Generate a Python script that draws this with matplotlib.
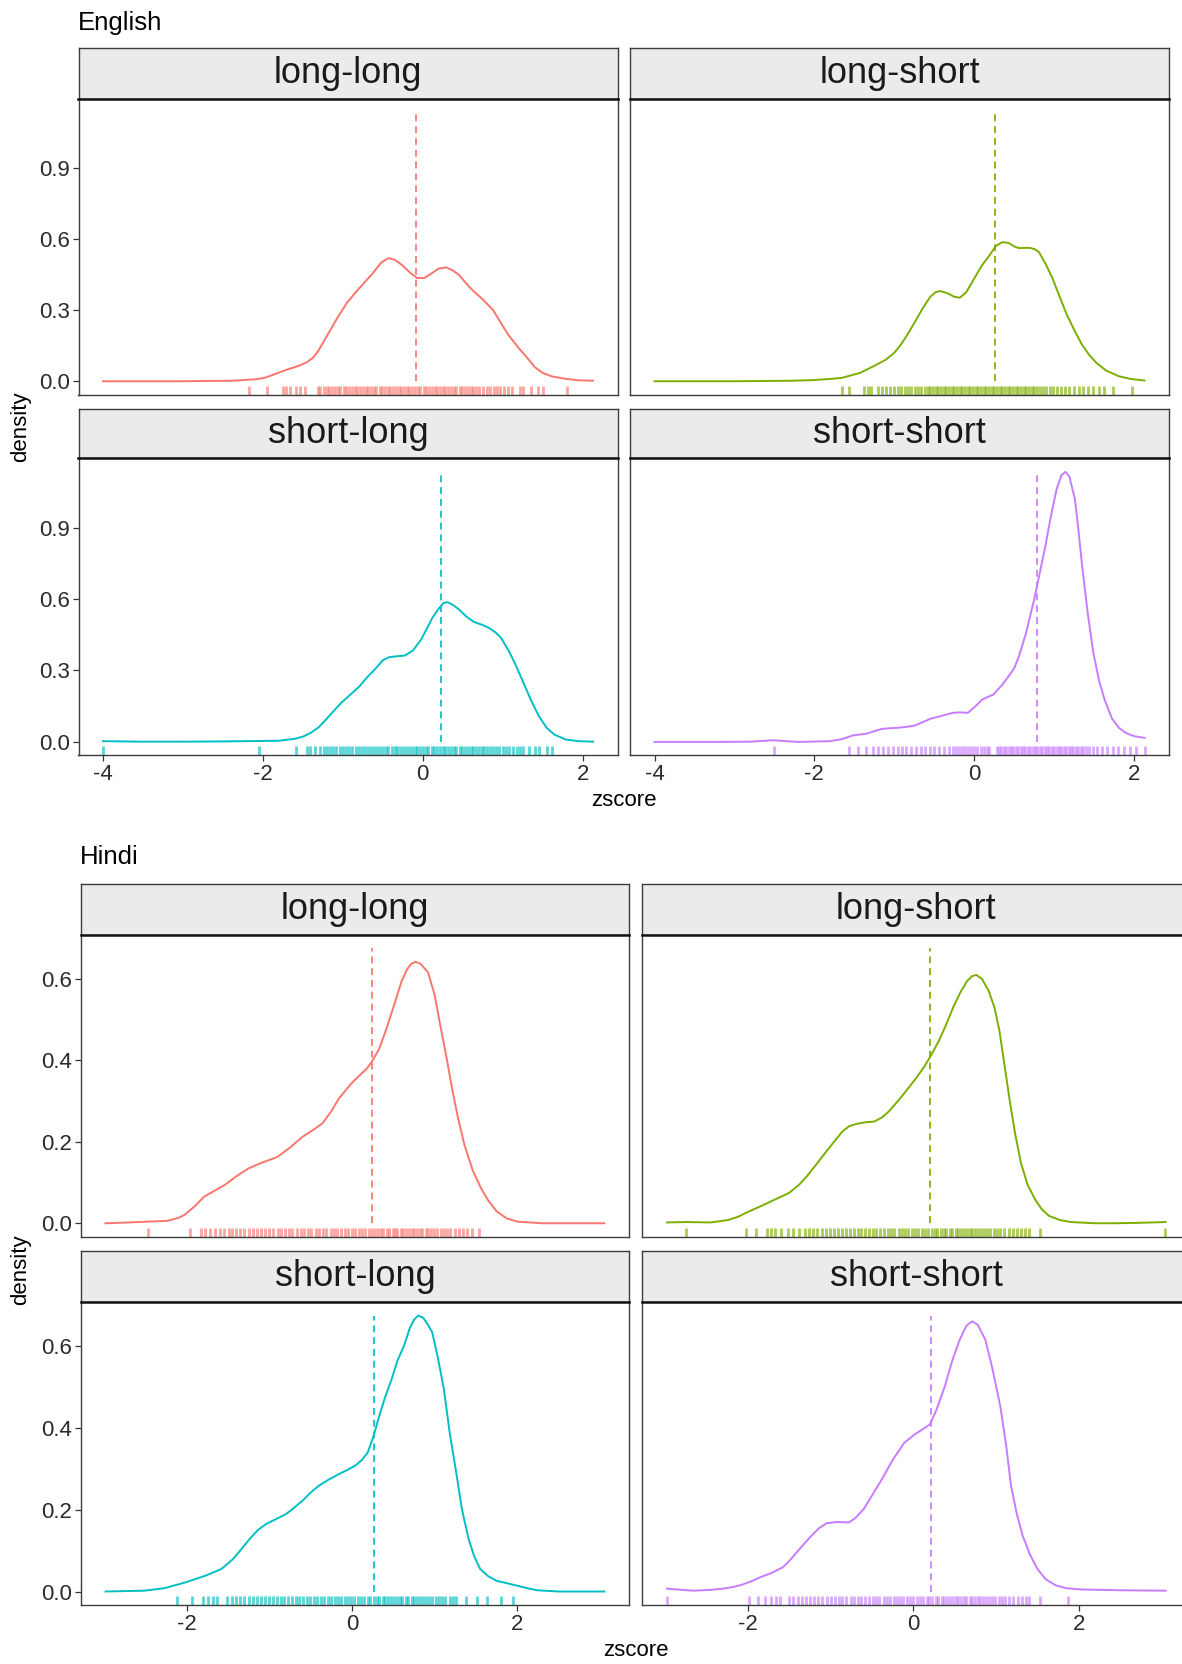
import numpy as np
import matplotlib
matplotlib.use("Agg")
from matplotlib import pyplot as plt
from matplotlib import transforms

plt.rcParams['font.family'] = ['Liberation Sans', 'DejaVu Sans']
plt.rcParams['axes.unicode_minus'] = False

W, H = 1182, 1664

conditions = ["long-long", "long-short", "short-long", "short-short"]
colours = ["#F8766D", "#7CAE00", "#00BFC4", "#C77CFF"]

# ---- English: density curves (x = zscore, y = density)
en_ll_x = [-4.0, -3.0, -2.4, -2.1, -1.98, -1.85, -1.69, -1.55, -1.45, -1.37, -1.31, -1.2, -1.07, -0.95, -0.83, -0.72, -0.64, -0.52, -0.43, -0.35, -0.26, -0.15, -0.07, 0.02, 0.1, 0.2, 0.29, 0.37, 0.45, 0.55, 0.64, 0.75, 0.88, 0.97, 1.07, 1.2, 1.31, 1.4, 1.5, 1.62, 1.79, 1.95, 2.13]
en_ll_y = [0.0, 0.0, 0.002, 0.008, 0.014, 0.03, 0.05, 0.065, 0.08, 0.1, 0.126, 0.19, 0.266, 0.33, 0.378, 0.42, 0.449, 0.5, 0.519, 0.512, 0.49, 0.455, 0.435, 0.435, 0.452, 0.475, 0.48, 0.468, 0.449, 0.41, 0.378, 0.345, 0.30, 0.25, 0.196, 0.14, 0.098, 0.06, 0.035, 0.02, 0.01, 0.004, 0.002]

en_ls_x = [-4.0, -3.0, -2.3, -2.0, -1.8, -1.66, -1.43, -1.25, -1.11, -1.0, -0.92, -0.83, -0.74, -0.64, -0.55, -0.48, -0.42, -0.33, -0.25, -0.18, -0.1, 0.0, 0.1, 0.19, 0.27, 0.35, 0.43, 0.5, 0.56, 0.63, 0.7, 0.76, 0.81, 0.9, 0.98, 1.07, 1.16, 1.26, 1.35, 1.44, 1.53, 1.65, 1.81, 1.95, 2.13]
en_ls_y = [0.0, 0.0, 0.002, 0.005, 0.01, 0.014, 0.035, 0.065, 0.09, 0.12, 0.153, 0.2, 0.251, 0.31, 0.356, 0.376, 0.38, 0.37, 0.356, 0.352, 0.375, 0.433, 0.49, 0.53, 0.57, 0.586, 0.583, 0.568, 0.561, 0.562, 0.562, 0.556, 0.544, 0.49, 0.433, 0.355, 0.279, 0.21, 0.153, 0.11, 0.077, 0.045, 0.021, 0.01, 0.003]

en_sl_x = [-4.0, -3.5, -3.0, -2.5, -2.0, -1.8, -1.6, -1.5, -1.4, -1.3, -1.21, -1.1, -1.02, -0.9, -0.79, -0.7, -0.6, -0.5, -0.42, -0.31, -0.22, -0.12, -0.02, 0.05, 0.12, 0.2, 0.26, 0.31, 0.38, 0.45, 0.55, 0.64, 0.74, 0.83, 0.91, 0.98, 1.08, 1.17, 1.27, 1.36, 1.45, 1.55, 1.65, 1.79, 1.95, 2.13]
en_sl_y = [0.003, 0.001, 0.001, 0.002, 0.004, 0.005, 0.013, 0.022, 0.038, 0.062, 0.094, 0.135, 0.164, 0.2, 0.234, 0.27, 0.304, 0.343, 0.356, 0.36, 0.363, 0.385, 0.43, 0.475, 0.521, 0.56, 0.583, 0.587, 0.575, 0.557, 0.525, 0.504, 0.492, 0.479, 0.46, 0.437, 0.38, 0.318, 0.24, 0.171, 0.11, 0.059, 0.03, 0.01, 0.003, 0.001]

en_ss_x = [-4.0, -3.2, -2.8, -2.52, -2.35, -2.2, -1.8, -1.65, -1.52, -1.34, -1.25, -1.15, -0.97, -0.85, -0.74, -0.63, -0.55, -0.4, -0.27, -0.18, -0.08, 0.0, 0.1, 0.24, 0.35, 0.43, 0.5, 0.56, 0.65, 0.75, 0.82, 0.89, 0.96, 1.03, 1.09, 1.14, 1.19, 1.26, 1.3, 1.35, 1.42, 1.49, 1.56, 1.63, 1.72, 1.81, 1.9, 2.0, 2.13]
en_ss_y = [0.0, 0.0, 0.001, 0.007, 0.003, 0.0, 0.003, 0.012, 0.027, 0.035, 0.045, 0.055, 0.059, 0.063, 0.069, 0.085, 0.097, 0.11, 0.122, 0.124, 0.122, 0.145, 0.178, 0.199, 0.24, 0.276, 0.31, 0.36, 0.46, 0.599, 0.71, 0.823, 0.95, 1.061, 1.12, 1.134, 1.115, 1.019, 0.9, 0.739, 0.54, 0.374, 0.26, 0.178, 0.1, 0.059, 0.037, 0.024, 0.017]

en_means = [-0.086, 0.26, 0.23, 0.79]

en_ll_rug = [-2.17, -1.95, -1.75, -1.71, -1.66, -1.58, -1.53, -1.47, -1.31, -1.28, -1.24, -1.2, -1.17, -1.13, -1.1, -1.06, -1.03, -0.99, -0.96, -0.92, -0.89, -0.85, -0.82, -0.78, -0.75, -0.71, -0.68, -0.65, -0.61, -0.58, -0.54, -0.51, -0.47, -0.44, -0.41, -0.37, -0.34, -0.3, -0.27, -0.23, -0.2, -0.17, -0.13, -0.1, -0.06, -0.03, 0.01, 0.04, 0.08, 0.11, 0.15, 0.18, 0.21, 0.25, 0.28, 0.32, 0.35, 0.39, 0.42, 0.46, 0.49, 0.53, 0.56, 0.6, 0.63, 0.67, 0.71, 0.75, 0.8, 0.84, 0.89, 0.93, 0.97, 1.02, 1.07, 1.12, 1.22, 1.26, 1.36, 1.44, 1.5, 1.81]
en_ls_rug = [-1.66, -1.57, -1.38, -1.33, -1.29, -1.21, -1.16, -1.11, -1.06, -1.01, -0.96, -0.92, -0.87, -0.83, -0.79, -0.74, -0.7, -0.66, -0.62, -0.58, -0.55, -0.51, -0.48, -0.45, -0.41, -0.38, -0.35, -0.31, -0.28, -0.25, -0.21, -0.18, -0.15, -0.11, -0.08, -0.05, -0.01, 0.02, 0.05, 0.09, 0.12, 0.15, 0.19, 0.22, 0.25, 0.29, 0.32, 0.35, 0.39, 0.42, 0.45, 0.49, 0.52, 0.55, 0.59, 0.62, 0.65, 0.69, 0.72, 0.75, 0.79, 0.82, 0.86, 0.9, 0.95, 0.99, 1.04, 1.09, 1.14, 1.19, 1.25, 1.31, 1.36, 1.42, 1.49, 1.56, 1.62, 1.74, 1.97]
en_sl_rug = [-4.0, -2.05, -1.58, -1.45, -1.41, -1.35, -1.29, -1.24, -1.2, -1.16, -1.12, -1.08, -1.04, -1.0, -0.96, -0.92, -0.88, -0.84, -0.8, -0.76, -0.72, -0.69, -0.65, -0.61, -0.57, -0.54, -0.5, -0.46, -0.43, -0.39, -0.35, -0.32, -0.28, -0.25, -0.21, -0.17, -0.14, -0.1, -0.07, -0.03, 0.0, 0.04, 0.07, 0.11, 0.14, 0.18, 0.21, 0.25, 0.28, 0.32, 0.35, 0.39, 0.42, 0.46, 0.49, 0.53, 0.56, 0.6, 0.63, 0.67, 0.7, 0.74, 0.77, 0.81, 0.84, 0.88, 0.92, 0.96, 1.0, 1.04, 1.08, 1.13, 1.18, 1.22, 1.26, 1.33, 1.4, 1.45, 1.55, 1.62]
en_ss_rug = [-2.51, -1.57, -1.45, -1.36, -1.27, -1.2, -1.14, -1.08, -1.02, -0.96, -0.9, -0.85, -0.79, -0.73, -0.67, -0.61, -0.55, -0.5, -0.44, -0.38, -0.32, -0.27, -0.23, -0.19, -0.15, -0.11, -0.08, -0.04, 0.0, 0.04, 0.08, 0.12, 0.16, 0.19, 0.28, 0.31, 0.34, 0.37, 0.4, 0.43, 0.46, 0.49, 0.52, 0.55, 0.58, 0.61, 0.64, 0.67, 0.7, 0.73, 0.76, 0.79, 0.82, 0.85, 0.88, 0.91, 0.94, 0.97, 1.0, 1.03, 1.06, 1.09, 1.12, 1.15, 1.18, 1.21, 1.24, 1.27, 1.3, 1.33, 1.36, 1.4, 1.44, 1.49, 1.54, 1.6, 1.66, 1.73, 1.8, 1.87, 1.95, 2.02, 2.13]

# ---- Hindi
hi_ll_x = [-2.98, -2.7, -2.47, -2.23, -2.1, -2.03, -1.9, -1.79, -1.54, -1.4, -1.25, -1.1, -0.9, -0.75, -0.6, -0.45, -0.36, -0.25, -0.16, -0.01, 0.1, 0.18, 0.25, 0.33, 0.42, 0.52, 0.6, 0.67, 0.72, 0.77, 0.83, 0.92, 1.0, 1.06, 1.14, 1.21, 1.28, 1.36, 1.46, 1.56, 1.65, 1.75, 1.87, 2.0, 2.3, 3.05]
hi_ll_y = [0.0, 0.002, 0.004, 0.006, 0.013, 0.02, 0.042, 0.065, 0.094, 0.115, 0.135, 0.148, 0.163, 0.186, 0.212, 0.232, 0.245, 0.275, 0.306, 0.343, 0.365, 0.38, 0.4, 0.429, 0.48, 0.543, 0.595, 0.625, 0.638, 0.642, 0.637, 0.616, 0.56, 0.494, 0.41, 0.331, 0.26, 0.192, 0.13, 0.086, 0.055, 0.029, 0.012, 0.004, 0.0, 0.0]

hi_ls_x = [-2.98, -2.75, -2.45, -2.24, -2.12, -2.02, -1.76, -1.5, -1.38, -1.29, -1.18, -1.07, -0.96, -0.86, -0.78, -0.69, -0.58, -0.47, -0.38, -0.3, -0.18, -0.08, 0.03, 0.13, 0.22, 0.31, 0.4, 0.48, 0.57, 0.65, 0.71, 0.76, 0.83, 0.91, 0.98, 1.04, 1.1, 1.17, 1.23, 1.3, 1.38, 1.47, 1.55, 1.64, 1.77, 1.9, 2.2, 2.42, 2.72, 3.05]
hi_ls_y = [0.002, 0.003, 0.002, 0.008, 0.016, 0.026, 0.05, 0.075, 0.095, 0.115, 0.143, 0.172, 0.2, 0.225, 0.238, 0.244, 0.248, 0.25, 0.26, 0.274, 0.302, 0.327, 0.356, 0.384, 0.415, 0.449, 0.49, 0.53, 0.568, 0.595, 0.607, 0.61, 0.6, 0.571, 0.53, 0.473, 0.39, 0.294, 0.22, 0.148, 0.095, 0.059, 0.035, 0.018, 0.008, 0.003, 0.0, 0.0, 0.001, 0.003]

hi_sl_x = [-2.98, -2.51, -2.27, -2.02, -1.78, -1.58, -1.44, -1.34, -1.24, -1.14, -1.04, -0.92, -0.8, -0.7, -0.6, -0.5, -0.4, -0.28, -0.16, -0.05, 0.04, 0.12, 0.19, 0.26, 0.33, 0.4, 0.48, 0.55, 0.63, 0.7, 0.75, 0.8, 0.86, 0.92, 0.97, 1.04, 1.11, 1.18, 1.26, 1.33, 1.41, 1.48, 1.55, 1.65, 1.75, 1.88, 2.0, 2.12, 2.24, 2.5, 3.05]
hi_sl_y = [0.0, 0.002, 0.008, 0.022, 0.038, 0.055, 0.079, 0.103, 0.128, 0.15, 0.165, 0.177, 0.189, 0.205, 0.222, 0.242, 0.259, 0.274, 0.287, 0.298, 0.308, 0.322, 0.34, 0.38, 0.43, 0.475, 0.52, 0.565, 0.602, 0.645, 0.665, 0.675, 0.67, 0.652, 0.634, 0.57, 0.496, 0.39, 0.291, 0.2, 0.128, 0.085, 0.055, 0.037, 0.026, 0.02, 0.014, 0.008, 0.003, 0.0, 0.0]

hi_ss_x = [-2.98, -2.8, -2.66, -2.45, -2.3, -2.18, -2.08, -1.96, -1.85, -1.72, -1.58, -1.5, -1.41, -1.32, -1.23, -1.14, -1.05, -0.92, -0.78, -0.7, -0.6, -0.5, -0.38, -0.25, -0.11, 0.02, 0.12, 0.2, 0.28, 0.38, 0.47, 0.56, 0.64, 0.71, 0.78, 0.87, 0.95, 1.05, 1.12, 1.18, 1.25, 1.32, 1.41, 1.5, 1.6, 1.72, 1.85, 2.03, 2.5, 3.05]
hi_ss_y = [0.007, 0.004, 0.002, 0.004, 0.007, 0.011, 0.016, 0.025, 0.035, 0.045, 0.059, 0.075, 0.096, 0.117, 0.137, 0.155, 0.167, 0.17, 0.169, 0.18, 0.202, 0.235, 0.275, 0.322, 0.364, 0.385, 0.398, 0.409, 0.445, 0.502, 0.565, 0.616, 0.65, 0.661, 0.652, 0.616, 0.55, 0.454, 0.36, 0.259, 0.19, 0.137, 0.09, 0.055, 0.03, 0.015, 0.008, 0.005, 0.003, 0.002]

hi_means = [0.245, 0.2, 0.27, 0.21]

hi_ll_rug = [-2.47, -1.96, -1.83, -1.78, -1.72, -1.66, -1.6, -1.55, -1.49, -1.45, -1.4, -1.35, -1.3, -1.25, -1.2, -1.15, -1.1, -1.05, -1.0, -0.95, -0.9, -0.86, -0.81, -0.76, -0.72, -0.67, -0.62, -0.58, -0.53, -0.49, -0.44, -0.4, -0.35, -0.31, -0.26, -0.22, -0.18, -0.13, -0.09, -0.05, 0.0, 0.04, 0.08, 0.12, 0.16, 0.2, 0.24, 0.28, 0.31, 0.35, 0.38, 0.42, 0.45, 0.49, 0.52, 0.55, 0.59, 0.62, 0.65, 0.69, 0.72, 0.75, 0.79, 0.82, 0.85, 0.89, 0.92, 0.96, 0.99, 1.03, 1.07, 1.11, 1.15, 1.19, 1.24, 1.29, 1.34, 1.39, 1.45, 1.53]
hi_ls_rug = [-2.75, -2.03, -1.9, -1.77, -1.72, -1.67, -1.6, -1.52, -1.45, -1.38, -1.31, -1.26, -1.21, -1.16, -1.11, -1.06, -1.01, -0.96, -0.91, -0.86, -0.81, -0.77, -0.72, -0.67, -0.63, -0.58, -0.54, -0.49, -0.45, -0.4, -0.36, -0.31, -0.27, -0.23, -0.18, -0.14, -0.1, -0.06, -0.02, 0.02, 0.06, 0.1, 0.14, 0.18, 0.22, 0.26, 0.29, 0.33, 0.37, 0.4, 0.44, 0.47, 0.51, 0.54, 0.58, 0.61, 0.65, 0.68, 0.71, 0.75, 0.78, 0.82, 0.85, 0.89, 0.93, 0.97, 1.01, 1.05, 1.1, 1.15, 1.2, 1.25, 1.3, 1.35, 1.4, 1.53, 3.04]
hi_sl_rug = [-2.11, -1.93, -1.8, -1.74, -1.68, -1.63, -1.51, -1.45, -1.4, -1.35, -1.3, -1.25, -1.2, -1.15, -1.1, -1.05, -1.0, -0.96, -0.91, -0.86, -0.82, -0.77, -0.73, -0.68, -0.64, -0.59, -0.55, -0.51, -0.46, -0.42, -0.38, -0.34, -0.29, -0.25, -0.21, -0.17, -0.13, -0.09, -0.05, -0.01, 0.03, 0.07, 0.11, 0.15, 0.19, 0.22, 0.26, 0.3, 0.33, 0.37, 0.4, 0.44, 0.47, 0.51, 0.54, 0.58, 0.61, 0.65, 0.68, 0.72, 0.75, 0.79, 0.82, 0.86, 0.89, 0.93, 0.97, 1.01, 1.05, 1.09, 1.13, 1.18, 1.22, 1.26, 1.38, 1.51, 1.63, 1.8, 1.95]
hi_ss_rug = [-2.98, -1.99, -1.88, -1.79, -1.72, -1.66, -1.61, -1.5, -1.45, -1.4, -1.35, -1.3, -1.25, -1.2, -1.15, -1.1, -1.05, -1.0, -0.95, -0.9, -0.86, -0.81, -0.76, -0.72, -0.67, -0.63, -0.58, -0.54, -0.49, -0.45, -0.41, -0.36, -0.32, -0.28, -0.24, -0.2, -0.16, -0.12, -0.08, -0.04, 0.0, 0.04, 0.08, 0.12, 0.16, 0.19, 0.23, 0.27, 0.3, 0.34, 0.37, 0.41, 0.44, 0.48, 0.51, 0.54, 0.58, 0.61, 0.64, 0.68, 0.71, 0.74, 0.78, 0.81, 0.84, 0.88, 0.91, 0.95, 0.99, 1.03, 1.07, 1.11, 1.16, 1.21, 1.26, 1.31, 1.36, 1.4, 1.53, 1.87]

en_yticks = [0.0, 0.3, 0.6, 0.9]
hi_yticks = [0.0, 0.2, 0.4, 0.6]
en_xticks = [-4, -2, 0, 2]
hi_xticks = [-2, 0, 2]


def px_axes(fig, left, top, right, bottom):
    return fig.add_axes([left / W, 1 - bottom / H, (right - left) / W, (bottom - top) / H])


def draw_block(fig, title, curves, means, rugs, yticks, xticks, cols, rows, title_xy, xlab_y, ylab_y):
    allx = np.concatenate([np.array(c[0]) for c in curves])
    xmin, xmax = allx.min(), allx.max()
    xpad = 0.05 * (xmax - xmin)
    ytop = max(max(c[1]) for c in curves)
    ypad = 0.05 * ytop
    for i, name in enumerate(conditions):
        r, c = divmod(i, 2)
        left, right = cols[c]
        st, sb, pb = rows[r]

        strip = px_axes(fig, left, st, right, sb)
        strip.set_facecolor("#EBEBEB")
        strip.set_xticks([])
        strip.set_yticks([])
        for s in strip.spines.values():
            s.set_color("#3C3C3C")
            s.set_linewidth(1.0)
        strip.text(0.5, 0.5, name, transform=strip.transAxes, ha="center", va="center",
                   fontsize=26, color="#1A1A1A")

        ax = px_axes(fig, left, sb, right, pb)
        x, y = curves[i]
        ax.plot(x, y, color=colours[i], lw=1.4, zorder=3)
        ax.plot([means[i], means[i]], [0, ytop], color=colours[i], lw=1.25,
                ls=(0, (4, 2.8)), zorder=2)
        trans = transforms.blended_transform_factory(ax.transData, ax.transAxes)
        ax.vlines(rugs[i], 0, 0.03, transform=trans, color=colours[i], lw=2.0, alpha=0.65)
        ax.set_xlim(xmin - xpad, xmax + xpad)
        ax.set_ylim(-ypad, ytop + ypad)
        for s in ax.spines.values():
            s.set_color("#3C3C3C")
            s.set_linewidth(1.0)
        ax.spines["top"].set_color("#111111")
        ax.spines["top"].set_linewidth(1.8)

        ax.set_yticks(yticks)
        ax.set_yticklabels(["%.1f" % v for v in yticks])
        ax.set_xticks(xticks)
        ax.set_xticklabels([str(v) for v in xticks])
        ax.tick_params(length=4, width=0.9, color="#333333", labelsize=16,
                       labelcolor="#2B2B2B", pad=2)
        if c == 1:
            ax.tick_params(axis="y", length=0, labelleft=False)
        if r == 0:
            ax.tick_params(axis="x", length=0, labelbottom=False)

    fig.text(title_xy[0] / W, 1 - title_xy[1] / H, title, ha="left", va="center",
             fontsize=18.5, color="black")
    fig.text((cols[0][0] + cols[1][1]) / 2 / W, 1 - xlab_y / H, "zscore", ha="center",
             va="center", fontsize=16)
    fig.text(21 / W, 1 - ylab_y / H, "density", rotation=90, ha="center", va="center",
             fontsize=16)


fig = plt.figure(figsize=(W / 100, H / 100), dpi=100)

draw_block(fig, "English",
           [(en_ll_x, en_ll_y), (en_ls_x, en_ls_y), (en_sl_x, en_sl_y), (en_ss_x, en_ss_y)],
           en_means, [en_ll_rug, en_ls_rug, en_sl_rug, en_ss_rug],
           en_yticks, en_xticks,
           cols=[(78.5, 617.5), (630, 1169)],
           rows=[(47.7, 98.7, 394.7), (408.5, 458.4, 755.4)],
           title_xy=(77.5, 23.3), xlab_y=800, ylab_y=427)

draw_block(fig, "Hindi",
           [(hi_ll_x, hi_ll_y), (hi_ls_x, hi_ls_y), (hi_sl_x, hi_sl_y), (hi_ss_x, hi_ss_y)],
           hi_means, [hi_ll_rug, hi_ls_rug, hi_sl_rug, hi_ss_rug],
           hi_yticks, hi_xticks,
           cols=[(80.6, 629.2), (642, 1190.6)],
           rows=[(883.8, 934.7, 1237), (1251, 1301.8, 1605.3)],
           title_xy=(79.6, 857), xlab_y=1651, ylab_y=1270)

fig.savefig("out.png", dpi=100)
